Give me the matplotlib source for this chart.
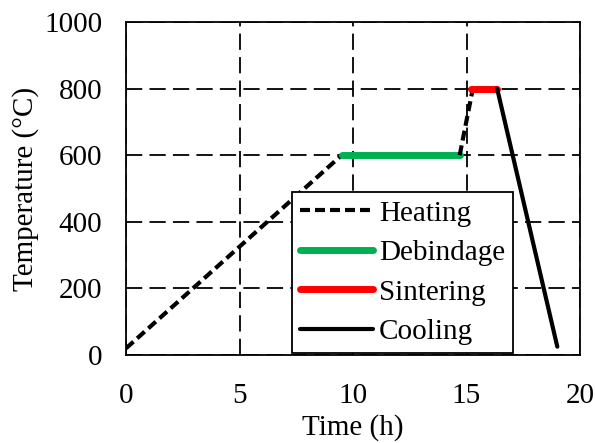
import numpy as np
import matplotlib.pyplot as plt

plt.rcParams['font.family'] = ['Liberation Serif', 'DejaVu Serif']

# data (time in h, temperature in C)
heat1_t = [0, 9.5]
heat1_T = [20, 600]
deb_t = [9.5, 14.7]
deb_T = [600, 600]
heat2_t = [14.7, 15.25]
heat2_T = [600, 790]
sint_t = [15.2, 16.35]
sint_T = [800, 800]
cool_t = [16.35, 19.0]
cool_T = [800, 25]

fs = 21

fig = plt.figure(figsize=(5.95, 4.43), dpi=100)
ax = fig.add_axes([126 / 595, 1 - 355 / 443, 454 / 595, 333 / 443])

ax.grid(True, color='black', ls=(0, (9, 4)), lw=1.3)
ax.set_axisbelow(True)

ax.plot(heat1_t, heat1_T, color='black', ls=(0, (2.4, 1.2)), lw=3, label='Heating')
ax.plot(deb_t, deb_T, color='#00B050', lw=5, solid_capstyle='round', label='Debindage')
ax.plot(heat2_t, heat2_T, color='black', ls=(0, (2.4, 1.2)), lw=3)
ax.plot(sint_t, sint_T, color='#FF0000', lw=5, solid_capstyle='round', label='Sintering')
ax.plot(cool_t, cool_T, color='black', lw=3, solid_capstyle='round', label='Cooling')

ax.set_xlim(0, 20)
ax.set_ylim(0, 1000)
ax.set_xticks([0, 5, 10, 15, 20])
ax.set_yticks([0, 200, 400, 600, 800, 1000])
ax.tick_params(labelsize=fs, length=0)
ax.tick_params(axis='x', pad=20)
ax.tick_params(axis='y', pad=17)
for s in ax.spines.values():
    s.set_linewidth(1.3)

ax.set_xlabel('Time (h)', fontsize=fs, labelpad=4)
ax.set_ylabel('Temperature (°C)', fontsize=fs, labelpad=4)

leg = ax.legend(loc='lower left', bbox_to_anchor=(0.366, 0.006), fontsize=fs,
                frameon=True, fancybox=False, framealpha=1, edgecolor='black',
                handlelength=2.5, handletextpad=0.2, labelspacing=0.45,
                borderpad=0.27, borderaxespad=0)
leg.get_frame().set_linewidth(1.3)

plt.savefig('out.png', dpi=100)
